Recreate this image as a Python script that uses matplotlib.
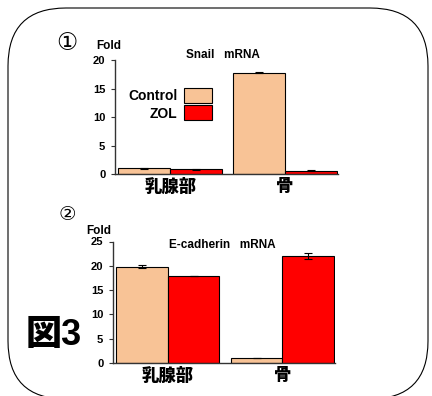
import matplotlib
matplotlib.use('Agg')
import matplotlib.pyplot as plt
import matplotlib.transforms as mtransforms
from matplotlib.patches import FancyBboxPatch, Patch
import numpy as np

plt.rcParams['font.family'] = ['Liberation Sans', 'Noto Sans CJK JP', 'DejaVu Sans']
plt.rcParams['font.weight'] = 'bold'

categories = ['乳腺部', '骨']
series = ['Control', 'ZOL']
colors = ['#F8C396', '#FF0000']

snail_vals = [[1.0, 17.8], [0.82, 0.58]]
snail_err = [[0.1, 0.05], [0.1, 0.1]]
ecad_vals = [[19.85, 1.03], [17.9, 22.0]]
ecad_err = [[0.4, 0.05], [0.05, 0.7]]

fig = plt.figure(figsize=(4.32, 3.96), dpi=100)

# rounded frame
frame = FancyBboxPatch((8, -3), 420, 391, boxstyle='round,pad=0,rounding_size=58',
                       transform=mtransforms.IdentityTransform(),
                       facecolor='none', edgecolor='black', linewidth=0.8)
fig.patches.append(frame)


def draw(ax, vals, errs, ymax, step, title, fold_xy, title_xy):
    x = np.arange(len(categories))
    w = 0.45
    for i, s in enumerate(series):
        ax.bar(x + (i - 0.5) * w, vals[i], w, yerr=errs[i], color=colors[i],
               edgecolor='black', linewidth=0.8, capsize=3, label=s,
               error_kw={'elinewidth': 0.8, 'capthick': 0.8})
    ax.set_ylim(0, ymax)
    ax.set_yticks(np.arange(0, ymax + 1, step))
    ax.set_xlim(-0.48, 1.46)
    ax.set_xticks(x)
    ax.set_xticklabels(categories, fontsize=12.5, fontweight='heavy')
    ax.tick_params(axis='x', length=0, pad=3)
    ax.tick_params(axis='y', length=3, width=0.8, labelsize=8, pad=4, colors='#333333',
                   labelcolor='black')
    for sp in ['top', 'right']:
        ax.spines[sp].set_visible(False)
    for sp in ['left', 'bottom']:
        ax.spines[sp].set_color('#333333')
        ax.spines[sp].set_linewidth(1.0)
    fig.text(fold_xy[0] / 432, 1 - fold_xy[1] / 396, 'Fold', fontsize=8.5,
             fontweight='bold', ha='left', va='center')
    fig.text(title_xy[0] / 432, 1 - title_xy[1] / 396, title, fontsize=8.5,
             fontweight='bold', ha='center', va='center')


ax1 = fig.add_axes([115 / 432, 1 - 174 / 396, 223 / 432, 114 / 396])
draw(ax1, snail_vals, snail_err, 20, 5, 'Snail   mRNA', (96, 46), (223, 55))
handles = [Patch(facecolor=c, edgecolor='black', linewidth=0.8) for c in colors]
fig.legend(handles, series, loc='upper left', bbox_to_anchor=(128 / 432, 1 - 88 / 396),
           frameon=False, markerfirst=False, handlelength=2.0,
           handleheight=1.3, labelspacing=0.15, handletextpad=0.5,
           borderpad=0, borderaxespad=0,
           prop={'weight': 'bold', 'size': 10})

ax2 = fig.add_axes([113 / 432, 1 - 363 / 396, 222 / 432, 121.5 / 396])
draw(ax2, ecad_vals, ecad_err, 25, 5, 'E-cadherin   mRNA', (86, 231), (222, 245))

fig.text(67 / 432, 1 - 43 / 396, '①', fontsize=17, ha='center', va='center',
         family=['DejaVu Sans'], fontweight='normal')
fig.text(67 / 432, 1 - 214 / 396, '②', fontsize=14, ha='center', va='center',
         family=['DejaVu Sans'], fontweight='normal')
fig.text(54 / 432, 1 - 336 / 396, '図3', fontsize=26, ha='center', va='center',
         fontweight='heavy')

fig.savefig('out.png', dpi=100)
